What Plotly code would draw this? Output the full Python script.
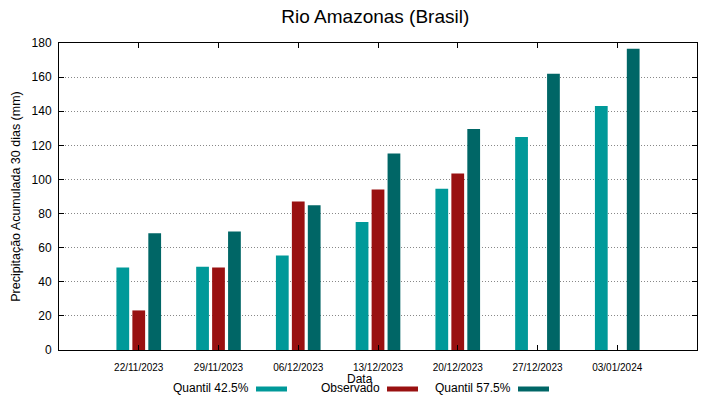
import plotly.graph_objects as go

dates = ["22/11/2023", "29/11/2023", "06/12/2023", "13/12/2023",
         "20/12/2023", "27/12/2023", "03/01/2024"]
q425 = [48.4, 48.8, 55.4, 75.0, 94.5, 124.9, 143.1]
observado = [23.2, 48.4, 87.1, 94.1, 103.5, None, None]
q575 = [68.5, 69.5, 84.9, 115.2, 129.6, 162.0, 176.6]

series_names = ["Quantil 42.5%", "Observado", "Quantil 57.5%"]
series_colors = ["#009999", "#991111", "#006666"]
series_values = [q425, observado, q575]

FONT = "Liberation Sans, Arial, sans-serif"

fig = go.Figure()
for name, color, vals in zip(series_names, series_colors, series_values):
    fig.add_trace(go.Bar(
        x=list(range(len(dates))), y=vals, name=name,
        marker=dict(color=color, line=dict(width=0)),
        showlegend=False,
    ))

fig.update_layout(
    width=719, height=399,
    margin=dict(l=59, r=22, t=43, b=49, autoexpand=False),
    paper_bgcolor="white", plot_bgcolor="white",
    barmode="group", bargap=0.4, bargroupgap=0.2,
    font=dict(family=FONT, color="#000000"),
    title=dict(text="Rio Amazonas (Brasil)", x=0.522, xanchor="center",
               y=0.96, yanchor="middle", font=dict(size=19, family=FONT)),
    xaxis=dict(
        range=[-1, 7], tickmode="array", tickvals=list(range(len(dates))),
        ticktext=dates, tickfont=dict(size=10), ticks="inside", ticklen=5,
        tickcolor="#000", showline=True, linecolor="#000", linewidth=1,
        mirror="ticks", showgrid=False, zeroline=False, automargin=False,
        ticklabelstandoff=8,
    ),
    yaxis=dict(
        range=[0, 180], tickmode="array", tickvals=list(range(0, 181, 20)),
        tickfont=dict(size=12), ticks="inside", ticklen=5, tickcolor="#000",
        showline=True, linecolor="#000", linewidth=1, mirror="ticks",
        showgrid=True, gridcolor="#888888", griddash="1px,2px", gridwidth=1,
        zeroline=False, automargin=False, ticklabelstandoff=4,
        title=dict(text="Precipitação Acumulada 30 dias (mm)",
                   font=dict(size=12.5), standoff=8),
    ),
)

# x-axis title placed like gnuplot (close to the tick labels)
fig.add_annotation(text="Data", xref="paper", yref="paper",
                   x=(360 - 59) / 638, y=(350 - 379) / 307,
                   showarrow=False, font=dict(size=12, family=FONT),
                   xanchor="center", yanchor="middle")

# gnuplot-style legend: text followed by colour sample
legend_text_right = [249, 380, 511]
for name, color, tr in zip(series_names, series_colors, legend_text_right):
    fig.add_annotation(text=name, xref="paper", yref="paper",
                       x=(tr - 59) / 638, y=(350 - 388) / 307,
                       showarrow=False, font=dict(size=12, family=FONT),
                       xanchor="right", yanchor="middle", xshift=2)
    fig.add_shape(type="rect", xref="paper", yref="paper",
                  x0=(tr + 7 - 59) / 638, x1=(tr + 38 - 59) / 638,
                  y0=(350 - 391.5) / 307, y1=(350 - 386.5) / 307,
                  fillcolor=color, line=dict(width=0))

fig.write_html("out.html",
               config={"displayModeBar": False},
               post_script="document.body.style.margin='0';"
                           "document.body.style.overflow='hidden';")
